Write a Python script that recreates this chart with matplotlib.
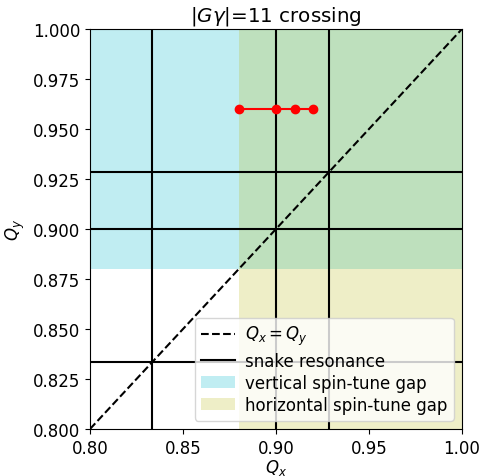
import matplotlib
matplotlib.use("Agg")
import matplotlib.pyplot as plt
import numpy as np

# tune-space limits
q_min, q_max = 0.8, 1.0
# snake resonance lines (fractional tunes)
snake_tunes = [5 / 6, 0.9, 13 / 14]
# spin-tune gap boundary
gap_edge = 0.88
# working-point scan
qx_scan = [0.88, 0.90, 0.91, 0.92]
qy_scan = [0.96, 0.96, 0.96, 0.96]

plt.rcParams['font.size'] = 12
fig = plt.figure(figsize=(4.82, 4.77), dpi=100)
ax = fig.add_axes([90 / 482, 1 - 430 / 477, 372 / 482, 400 / 477])

ax.plot([q_min, q_max], [q_min, q_max], 'k--', label=r'$Q_x = Q_y$')
for i, q in enumerate(snake_tunes):
    ax.axvline(q, color='k', lw=1.5, label='snake resonance' if i == 0 else None)
    ax.axhline(q, color='k', lw=1.5)

ax.fill_between([q_min, q_max], gap_edge, q_max, color='tab:cyan', alpha=0.27,
                lw=0, label='vertical spin-tune gap')
ax.fill_betweenx([q_min, q_max], gap_edge, q_max, color='tab:olive', alpha=0.25,
                 lw=0, label='horizontal spin-tune gap')

ax.plot(qx_scan, qy_scan, 'r-o', ms=6)

ax.set_xlim(q_min, q_max)
ax.set_ylim(q_min, q_max)
ax.set_xticks([0.80, 0.85, 0.90, 0.95, 1.00])
ax.set_yticks(np.arange(0.8, 1.0001, 0.025))
ax.set_xlabel(r'$Q_x$', labelpad=0)
ax.set_ylabel(r'$Q_y$')
ax.set_title(r'$|G\gamma|$=11 crossing', fontsize=14.3)
ax.legend(loc='lower right', fontsize=12, labelspacing=0.25, handletextpad=0.6)

fig.savefig('out.png', dpi=100)
